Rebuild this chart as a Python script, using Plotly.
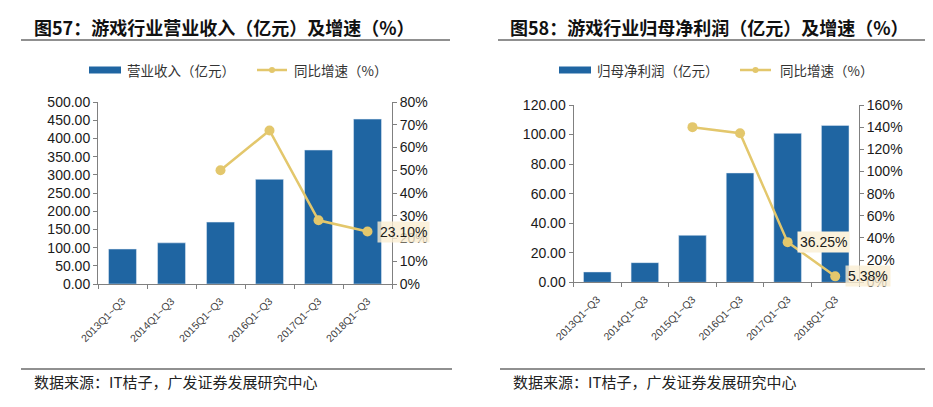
import plotly.graph_objects as go

categories = ["2013Q1~Q3", "2014Q1~Q3", "2015Q1~Q3", "2016Q1~Q3", "2017Q1~Q3", "2018Q1~Q3"]
revenue = [96, 113, 170, 287.5, 368, 453]
revenue_growth = [None, None, 50.0, 67.5, 28.0, 23.10]
profit = [7.0, 13.3, 31.8, 74.0, 100.8, 106.2]
profit_growth = [None, None, 140.0, 134.5, 36.25, 5.38]

left_ticks = [0, 50, 100, 150, 200, 250, 300, 350, 400, 450, 500]
left_pct_ticks = [0, 10, 20, 30, 40, 50, 60, 70, 80]
right_ticks = [0, 20, 40, 60, 80, 100, 120]
right_pct_ticks = [0, 20, 40, 60, 80, 100, 120, 140, 160]

left_title = "图57：游戏行业营业收入（亿元）及增速（%）"
right_title = "图58：游戏行业归母净利润（亿元）及增速（%）"
source_text = "数据来源：IT桔子，广发证券发展研究中心"

BAR = "#1F65A2"
LINE = "#E3C76C"
FONT = "Liberation Sans, Arial, Noto Sans CJK SC, sans-serif"
CJK = "Noto Sans CJK SC, sans-serif"
W, H = 933, 407
OFF = 8  # page offset of the figure inside the browser window

def px(x):
    return (x - OFF) / W

def py(y):
    return 1 - (y - OFF) / H

fig = go.Figure()

fig.add_trace(go.Bar(x=categories, y=revenue, marker_color=BAR, xaxis="x", yaxis="y",
                     showlegend=False, width=0.57))
fig.add_trace(go.Scatter(x=categories, y=revenue_growth, mode="lines+markers",
                         line=dict(color=LINE, width=2.5), marker=dict(size=10, color=LINE),
                         xaxis="x", yaxis="y2", showlegend=False))
fig.add_trace(go.Bar(x=categories, y=profit, marker_color=BAR, xaxis="x2", yaxis="y3",
                     showlegend=False, width=0.58))
fig.add_trace(go.Scatter(x=categories, y=profit_growth, mode="lines+markers",
                         line=dict(color=LINE, width=2.5), marker=dict(size=10, color=LINE),
                         xaxis="x2", yaxis="y4", showlegend=False))

axis_common = dict(showgrid=False, zeroline=False, showline=True, linecolor="#808080",
                   linewidth=1, ticks="outside", ticklen=4, tickcolor="#808080",
                   automargin=False,
                   tickfont=dict(family=FONT, size=14, color="#1a1a1a"))
xcommon = dict(showgrid=False, zeroline=False, showline=True, linecolor="#808080", linewidth=1,
               ticks="outside", ticklen=4, tickcolor="#808080", tickson="boundaries",
               tickangle=-45, tickfont=dict(family=FONT, size=10.5, color="#404040"),
               ticklabelstandoff=6,
               type="category", range=[-0.5, 5.5], automargin=False)

ldom_x = [px(98), px(392)]
ldom_y = [py(284), py(102)]
rdom_x = [px(573.5), px(859)]
rdom_y = [py(282.3), py(105)]

fig.update_layout(
    width=W, height=H, margin=dict(l=0, r=0, t=0, b=0, pad=0), autosize=False,
    paper_bgcolor="white", plot_bgcolor="white", bargap=0.43, showlegend=False,
    xaxis=dict(domain=ldom_x, anchor="y", **xcommon),
    yaxis=dict(domain=ldom_y, anchor="x", range=[0, 500], tickvals=left_ticks,
               ticktext=[f"{v:.2f}" for v in left_ticks], **axis_common),
    yaxis2=dict(overlaying="y", side="right", anchor="x", range=[0, 80],
                tickvals=left_pct_ticks, ticktext=[f"{v}%" for v in left_pct_ticks],
                **axis_common),
    xaxis2=dict(domain=rdom_x, anchor="y3", **xcommon),
    yaxis3=dict(domain=rdom_y, anchor="x2", range=[0, 120], tickvals=right_ticks,
                ticktext=[f"{v:.2f}" for v in right_ticks], **axis_common),
    yaxis4=dict(overlaying="y3", side="right", anchor="x2", range=[0, 160],
                tickvals=right_pct_ticks, ticktext=[f"{v}%" for v in right_pct_ticks],
                **axis_common),
)

shapes = []
annotations = []

# Titles and rules
for tx, title, x0, x1 in [(32, left_title, 21, 450), (508, right_title, 498, 926)]:
    annotations.append(dict(x=px(tx), y=py(27), xref="paper", yref="paper", xanchor="left",
                            yanchor="middle", showarrow=False,
                            text="<b>" + title + "</b>",
                            font=dict(family=CJK, size=18, color="#111")))
    shapes.append(dict(type="line", xref="paper", yref="paper", x0=px(x0), x1=px(x1),
                       y0=py(40), y1=py(40), line=dict(color="#222", width=1.2)))

# Source lines
for sx, x0, x1 in [(32, 21, 452), (511, 500, 933)]:
    shapes.append(dict(type="line", xref="paper", yref="paper", x0=px(x0), x1=px(x1),
                       y0=py(369), y1=py(369), line=dict(color="#222", width=1.2)))
    annotations.append(dict(x=px(sx), y=py(381), xref="paper", yref="paper", xanchor="left",
                            yanchor="middle", showarrow=False, text=source_text,
                            font=dict(family=CJK, size=15, color="#222")))

# Legends
for (rx0, rx1, rtext_x, rtext, lx0, lx1, ltext_x, ltext) in [
        (89, 121, 125, "营业收入（亿元）", 257, 287, 292, "同比增速（%）"),
        (559, 591, 595, "归母净利润（亿元）", 740, 771, 778, "同比增速（%）")]:
    shapes.append(dict(type="rect", xref="paper", yref="paper", x0=px(rx0), x1=px(rx1),
                       y0=py(73.5), y1=py(66.5), fillcolor=BAR, line=dict(width=0)))
    shapes.append(dict(type="line", xref="paper", yref="paper", x0=px(lx0), x1=px(lx1),
                       y0=py(70), y1=py(70), line=dict(color=LINE, width=2.5)))
    cx = (lx0 + lx1) / 2
    shapes.append(dict(type="circle", xref="paper", yref="paper", x0=px(cx - 3), x1=px(cx + 3),
                       y0=py(73), y1=py(67), fillcolor=LINE, line=dict(width=0)))
    for tx, t in [(rtext_x, rtext), (ltext_x, ltext)]:
        annotations.append(dict(x=px(tx), y=py(70), xref="paper", yref="paper", xanchor="left",
                                yanchor="middle", showarrow=False, text=t,
                                font=dict(family=CJK, size=13.5, color="#333")))

# Data labels
label_font = dict(family=FONT, size=14, color="#1a1a1a")
annotations.append(dict(x=categories[5], y=revenue_growth[5], xref="x", yref="y2",
                        xanchor="left", yanchor="middle", showarrow=False, xshift=9, yshift=-1,
                        text=f"{revenue_growth[5]:.2f}%", bgcolor="rgba(250,238,210,0.8)",
                        font=label_font, borderpad=2))
annotations.append(dict(x=categories[4], y=profit_growth[4], xref="x2", yref="y4",
                        xanchor="left", yanchor="middle", showarrow=False, xshift=9, yshift=0,
                        text=f"{profit_growth[4]:.2f}%", bgcolor="#FBF2DC", font=label_font,
                        borderpad=2))
annotations.append(dict(x=categories[5], y=profit_growth[5], xref="x2", yref="y4",
                        xanchor="left", yanchor="middle", showarrow=False, xshift=10, yshift=0,
                        text=f"{profit_growth[5]:.2f}%", bgcolor="rgba(250,238,210,0.8)",
                        font=label_font, borderpad=2))

fig.update_layout(shapes=shapes, annotations=annotations)
fig.write_html("out.html")
